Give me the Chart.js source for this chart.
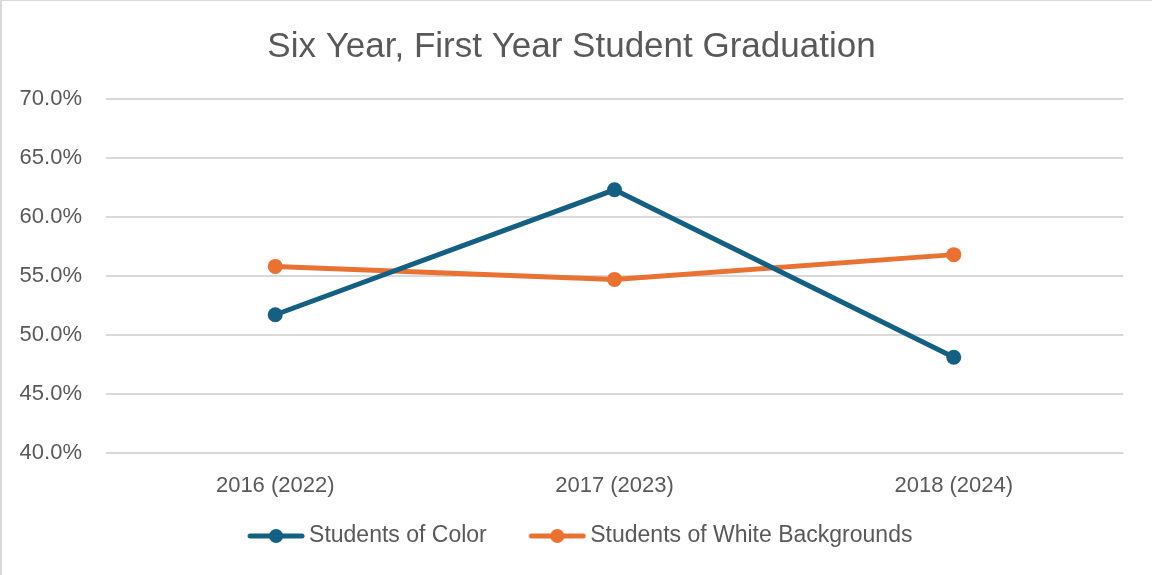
<!DOCTYPE html>
<html>
<head>
<meta charset="utf-8">
<script src="https://cdn.jsdelivr.net/npm/chart.js@4.4.1/dist/chart.umd.min.js"></script>
<style>
  html, body { margin: 0; padding: 0; background: #fff; }
  #wrap { width: 1152px; height: 575px; position: relative; }
</style>
</head>
<body>
<div id="wrap"><canvas id="c"></canvas></div>
<script>
const categories = ['2016 (2022)', '2017 (2023)', '2018 (2024)'];
const studentsOfColor = [51.7, 62.3, 48.1];
const studentsWhite = [55.8, 54.7, 56.8];
const seriesNames = ['Students of Color', 'Students of White Backgrounds'];
const chartTitle = 'Six Year, First Year Student Graduation';
const yMin = 40, yMax = 70, yStep = 5;

const BLUE = '#156082', ORANGE = '#E97132', TEXT = '#595959', GRID = '#D9D9D9';
const FONT = "'Liberation Sans', Arial, sans-serif";

// legend marker: line with a dot, drawn in the right part of the canvas
function legendMarker(color) {
  const c = document.createElement('canvas');
  c.width = 82; c.height = 18;
  const g = c.getContext('2d');
  const x0 = 82 - 58;
  g.strokeStyle = color; g.lineWidth = 5; g.lineCap = 'round';
  g.beginPath(); g.moveTo(x0 + 3, 9); g.lineTo(x0 + 55, 9); g.stroke();
  g.fillStyle = color;
  g.beginPath(); g.arc(x0 + 29, 9, 7, 0, Math.PI * 2); g.fill();
  return c;
}
const markers = [legendMarker(BLUE), legendMarker(ORANGE)];

const borderPlugin = {
  id: 'frame',
  beforeDraw(chart) {
    const ctx = chart.ctx;
    ctx.save();
    ctx.fillStyle = '#fff';
    ctx.fillRect(0, 0, chart.width, chart.height);
    ctx.fillStyle = GRID;
    ctx.fillRect(0, 0, 2, chart.height);
    ctx.fillRect(0, 0, chart.width, 1);
    ctx.restore();
  }
};

new Chart(document.getElementById('c'), {
  type: 'line',
  data: {
    labels: categories,
    datasets: [
      { label: seriesNames[0], data: studentsOfColor, borderColor: BLUE, backgroundColor: BLUE,
        borderWidth: 5, pointRadius: 7.5, pointHoverRadius: 7.5, pointBackgroundColor: BLUE, pointBorderWidth: 0, tension: 0 },
      { label: seriesNames[1], data: studentsWhite, borderColor: ORANGE, backgroundColor: ORANGE,
        borderWidth: 5, pointRadius: 7.5, pointHoverRadius: 7.5, pointBackgroundColor: ORANGE, pointBorderWidth: 0, tension: 0 }
    ]
  },
  options: {
    responsive: true,
    maintainAspectRatio: false,
    animation: false,
    layout: { padding: { left: 19.6, right: 28.6, top: 0, bottom: 17.5 } },
    plugins: {
      title: {
        display: true, text: chartTitle, color: TEXT,
        font: { family: FONT, size: 35, weight: 'normal' },
        padding: { top: 26, bottom: 31 }
      },
      legend: {
        position: 'bottom',
        labels: {
          color: TEXT,
          font: { family: FONT, size: 23 },
          usePointStyle: true,
          pointStyleWidth: 67,
          padding: 25,
          generateLabels(chart) {
            return chart.data.datasets.map((ds, i) => ({
              text: ds.label, fillStyle: ds.borderColor, strokeStyle: ds.borderColor,
              lineWidth: 0, pointStyle: markers[i], datasetIndex: i, hidden: false, fontColor: TEXT
            }));
          }
        }
      },
      tooltip: { enabled: false }
    },
    scales: {
      x: {
        offset: true,
        grid: { display: false, drawTicks: false },
        border: { display: false },
        afterFit(scale) { scale.height = 46.8; },
        ticks: { color: TEXT, font: { family: FONT, size: 22 }, padding: 20 }
      },
      y: {
        min: yMin, max: yMax,
        grid: { color: GRID, lineWidth: 2, drawTicks: false },
        border: { display: false },
        afterFit(scale) { scale.width = 86; },
        ticks: {
          stepSize: yStep, color: TEXT, font: { family: FONT, size: 22 }, padding: 23.6,
          callback: v => v.toFixed(1) + '%'
        }
      }
    }
  },
  plugins: [borderPlugin]
});
</script>
</body>
</html>
